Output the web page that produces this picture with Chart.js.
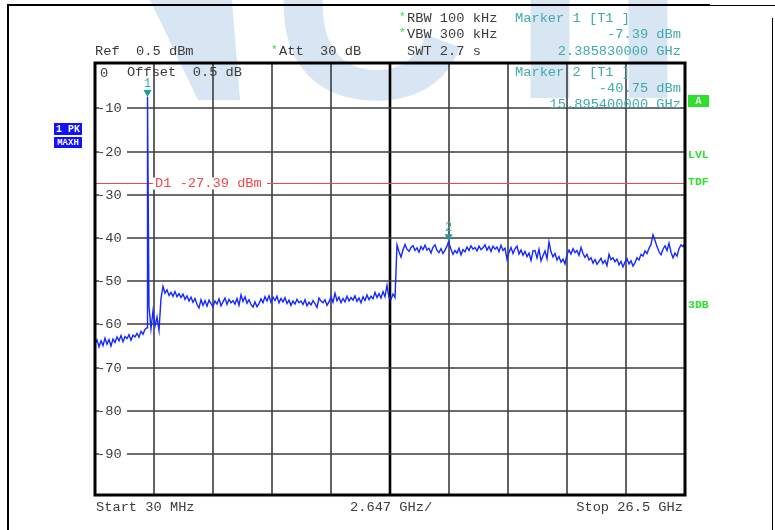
<!DOCTYPE html>
<html>
<head>
<meta charset="utf-8">
<script src="https://cdn.jsdelivr.net/npm/chart.js@4.4.1/dist/chart.umd.min.js"></script>
<style>
  html, body { margin: 0; padding: 0; background: #fff; }
  canvas { display: block; }
</style>
</head>
<body>
<canvas id="spec" width="775" height="530"></canvas>
<script>
// sweep settings
const startGHz = 0.03;
const stopGHz = 26.5;
const refLevel = 0.5;
const bottomLevel = -99.5;

// trace levels (dBm), one per sweep point from start to stop
const levels = [
  -64.5, -63.6, -65.2, -63.8, -64.9, -63.2, -64.6, -63.5, -65.0, -63.4,
  -64.2, -62.9, -63.8, -62.6, -64.0, -62.8, -63.3, -62.4, -63.7, -62.5,
  -62.9, -62.1, -63.0, -61.6, -62.3, -61.2,
  -60.8, -55.8, -61.0, -56.9, -60.4, -58.3, -61.4, -54.0,
  -51.2, -52.8, -52.0, -53.3, -52.6, -53.5,
  -52.4, -53.6, -52.9, -53.8, -53.0, -54.2, -53.4, -54.6, -53.7, -54.9,
  -54.0, -55.4, -56.2, -54.3, -55.6, -54.5, -55.8, -54.4, -55.2, -55.9,
  -54.6, -55.3, -54.1, -55.7, -54.8, -53.9, -55.4, -54.2, -55.0, -54.5,
  -55.3, -54.0, -55.6, -53.2, -54.7, -53.6, -55.1, -54.3, -55.4, -56.0,
  -54.8, -55.9, -55.2, -54.1, -55.0, -53.6, -54.6, -53.4, -54.9, -53.7,
  -54.5, -53.5, -55.0, -54.0, -54.8, -53.8, -55.2, -54.4, -55.6, -54.6,
  -55.3, -54.2, -55.0, -54.6, -55.4, -54.3, -55.7, -54.9, -55.5, -54.5,
  -55.2, -56.1, -53.9, -54.6, -55.0, -54.3, -55.6, -54.8, -53.6, -54.9,
  -52.8, -54.5, -53.7, -55.0, -54.0, -54.8, -53.5, -54.6, -53.8, -54.4,
  -53.4, -54.7, -53.9, -55.0, -53.6, -54.5, -53.2, -54.3, -53.5, -54.1,
  -52.6, -53.8, -52.9, -53.9, -52.4, -53.6, -51.0, -53.8, -54.2, -53.0,
  -53.8, -41.6,
  -43.2, -44.4, -42.8, -41.5, -42.6, -43.1, -42.2, -41.8,
  -42.9, -42.3, -43.3, -42.0, -42.7, -41.7, -42.8, -42.4, -43.5, -42.1,
  -41.6, -42.9, -43.4, -42.5, -43.6, -42.8, -41.9, -41.2,
  -42.6, -43.8, -42.9, -43.5, -42.4, -43.9, -42.7, -43.2, -42.1, -42.9, -41.8, -42.6,
  -42.2, -43.0, -41.9, -42.7, -42.3, -41.6, -42.8, -42.0, -43.1, -41.9,
  -42.6, -42.1, -43.2, -41.7, -42.9, -42.4, -44.9, -43.3, -42.2, -43.6,
  -42.5, -41.9, -43.7, -42.8, -44.0, -43.1, -44.3, -43.5, -45.2, -43.0,
  -42.9, -44.6, -42.6, -45.3, -44.1, -43.0, -44.8, -40.9, -43.2, -44.4,
  -43.6, -45.1, -44.3, -45.6, -44.9, -46.0, -43.9, -42.8, -43.7, -42.5,
  -43.4, -42.9, -44.0, -42.2, -43.6, -44.5, -43.8, -45.1, -44.6, -45.8,
  -45.0, -46.1, -45.4, -44.7, -45.9, -45.2, -46.4, -43.8, -45.0, -44.6,
  -45.5, -44.9, -46.2, -45.4, -46.7, -45.6, -44.8, -46.0, -45.3, -46.5,
  -45.7, -44.6, -45.1, -43.8, -44.2, -43.0, -43.6, -42.4, -41.5, -39.3,
  -40.6, -42.0, -43.2, -43.9, -42.6, -41.8, -42.9, -41.2, -43.3, -44.6,
  -43.5, -44.2, -42.5, -41.6, -42.0, -41.1
];

// markers
const markerNames = ['1', '2'];
const markerFreq = [2.38583, 15.8954];
const markerLevel = [-7.39, -40.75];

// display line D1
const displayLine = -27.39;

// grid
const gridFreqs = [0.03, 2.677, 5.324, 7.971, 10.618, 13.265, 15.912, 18.559, 21.206, 23.853, 26.5];
const levelTicks = [-10, -20, -30, -40, -50, -60, -70, -80, -90];
const levelLabels = ['-10', '-20', '-30', '-40', '-50', '-60', '-70', '-80', '-90'];

const stepGHz = (stopGHz - startGHz) / (levels.length - 1);
const points = levels.map((v, i) => ({ x: startGHz + i * stepGHz, y: v }));
markerFreq.forEach((f, i) => points.push({ x: f, y: markerLevel[i] }));
points.sort((a, b) => a.x - b.x);

const MONO = '"Liberation Mono", "DejaVu Sans Mono", monospace';
const GREY = '#3c3c3c';
const TEAL = '#3faaaa';
const RED = '#f04848';
const GREEN = '#2ee02e';

function txt(ctx, s, x, y, color, align, font) {
  ctx.font = font || '13.7px ' + MONO;
  ctx.fillStyle = color;
  ctx.textAlign = align || 'left';
  ctx.textBaseline = 'middle';
  ctx.fillText(s, x, y);
}

const screenPlugin = {
  id: 'screen',
  beforeDraw(chart) {
    const ctx = chart.ctx;
    ctx.save();
    ctx.fillStyle = '#fff';
    ctx.fillRect(0, 0, chart.width, chart.height);
    // watermark (logo, top cropped)
    ctx.fillStyle = '#d8e6f3';
    ctx.beginPath();
    ctx.moveTo(150, 0);
    ctx.lineTo(232, 0);
    ctx.lineTo(240, 100);
    ctx.lineTo(198, 100);
    ctx.closePath();
    ctx.fill();
    ctx.font = 'bold 270px "Liberation Sans", Arial, sans-serif';
    ctx.textAlign = 'center';
    ctx.textBaseline = 'alphabetic';
    [['C', 370], ['T', 550], ['T', 648]].forEach(l => ctx.fillText(l[0], l[1], 98));
    ctx.restore();
  },
  beforeDatasetsDraw(chart) {
    const { ctx, chartArea: a, scales: { x, y } } = chart;
    ctx.save();
    gridFreqs.slice(1, -1).forEach((f, i) => {
      const px = Math.round(x.getPixelForValue(f));
      ctx.lineWidth = i === 4 ? 2.6 : 1.6;
      ctx.strokeStyle = i === 4 ? '#000' : GREY;
      ctx.beginPath();
      ctx.moveTo(px, a.top);
      ctx.lineTo(px, a.bottom);
      ctx.stroke();
    });
    ctx.lineWidth = 1.6;
    ctx.strokeStyle = GREY;
    levelTicks.forEach(v => {
      const py = Math.round(y.getPixelForValue(v));
      ctx.beginPath();
      ctx.moveTo(a.left, py);
      ctx.lineTo(a.right, py);
      ctx.stroke();
    });
    // level labels with white backing
    levelTicks.forEach((v, i) => {
      const py = Math.round(y.getPixelForValue(v));
      ctx.fillStyle = '#fff';
      ctx.fillRect(a.left + 4, py - 5, 28, 10);
      txt(ctx, levelLabels[i], a.left + 2, py, GREY);
    });
    txt(ctx, '0', a.left + 5, 73, GREY);
    txt(ctx, 'Offset  0.5 dB', 127, 72, GREY);
    // display line
    const dy = Math.round(y.getPixelForValue(displayLine)) + 0.5;
    ctx.strokeStyle = RED;
    ctx.lineWidth = 1.2;
    ctx.beginPath();
    ctx.moveTo(a.left, dy);
    ctx.lineTo(a.right, dy);
    ctx.stroke();
    ctx.fillStyle = '#fff';
    ctx.fillRect(153, dy - 6, 114, 12);
    txt(ctx, 'D1 -27.39 dBm', 155, dy, RED);
    ctx.restore();
  },
  afterDatasetsDraw(chart) {
    const { ctx, chartArea: a, scales: { x, y } } = chart;
    ctx.save();
    // plot frame
    ctx.strokeStyle = '#000';
    ctx.lineWidth = 3;
    ctx.strokeRect(a.left, a.top, a.right - a.left, a.bottom - a.top);
    // outer frame
    ctx.lineWidth = 2;
    ctx.beginPath();
    ctx.moveTo(8, 530);
    ctx.lineTo(8, 5);
    ctx.lineTo(710, 5);
    ctx.stroke();
    ctx.lineWidth = 1;
    ctx.beginPath();
    ctx.moveTo(710, 5.5);
    ctx.lineTo(775, 5.5);
    ctx.moveTo(772.5, 18);
    ctx.lineTo(772.5, 530);
    ctx.stroke();
    // markers
    markerFreq.forEach((f, i) => {
      const px = x.getPixelForValue(f);
      const py = y.getPixelForValue(markerLevel[i]);
      ctx.fillStyle = '#1c9c9c';
      ctx.beginPath();
      ctx.moveTo(px - 4, py - 7);
      ctx.lineTo(px + 4, py - 7);
      ctx.lineTo(px, py);
      ctx.closePath();
      ctx.fill();
      txt(ctx, markerNames[i], px, py - 13, TEAL, 'center', '12px ' + MONO);
    });
    // header
    txt(ctx, 'Ref  0.5 dBm', 95, 51, GREY);
    txt(ctx, '*', 271, 50, GREEN, 'left', '11px ' + MONO);
    txt(ctx, 'Att  30 dB', 279, 51, GREY);
    txt(ctx, '*', 399, 17, GREEN, 'left', '11px ' + MONO);
    txt(ctx, 'RBW 100 kHz', 407, 18, GREY);
    txt(ctx, '*', 399, 33, GREEN, 'left', '11px ' + MONO);
    txt(ctx, 'VBW 300 kHz', 407, 34, GREY);
    txt(ctx, 'SWT 2.7 s', 407, 51, GREY);
    txt(ctx, 'Marker 1 [T1 ]', 515, 18, TEAL);
    txt(ctx, '-7.39 dBm', 681, 34, TEAL, 'right');
    txt(ctx, '2.385830000 GHz', 681, 51, TEAL, 'right');
    txt(ctx, 'Marker 2 [T1 ]', 515, 72, TEAL);
    txt(ctx, '-40.75 dBm', 681, 88, TEAL, 'right');
    txt(ctx, '15.895400000 GHz', 681, 104, TEAL, 'right');
    // footer
    txt(ctx, 'Start 30 MHz', 96, 507, GREY);
    txt(ctx, '2.647 GHz/', 350, 507, GREY);
    txt(ctx, 'Stop 26.5 GHz', 683, 507, GREY, 'right');
    // trace info boxes
    ctx.fillStyle = '#1212ff';
    ctx.fillRect(54, 123, 28, 12);
    ctx.fillRect(54, 137, 28, 11);
    txt(ctx, '1 PK', 68, 129.5, '#fff', 'center', 'bold 10px ' + MONO);
    txt(ctx, 'MAXH', 68, 143, '#fff', 'center', 'bold 9px ' + MONO);
    // right side flags
    ctx.fillStyle = GREEN;
    ctx.fillRect(688, 95, 21, 12);
    txt(ctx, 'A', 698.5, 101.5, '#fff', 'center', 'bold 10px ' + MONO);
    txt(ctx, 'LVL', 688, 155, GREEN, 'left', 'bold 11.5px ' + MONO);
    txt(ctx, 'TDF', 688, 182, GREEN, 'left', 'bold 11.5px ' + MONO);
    txt(ctx, '3DB', 688, 305, GREEN, 'left', 'bold 11.5px ' + MONO);
    ctx.restore();
  }
};

new Chart(document.getElementById('spec'), {
  type: 'line',
  data: {
    datasets: [{
      data: points,
      borderColor: '#1428ff',
      borderWidth: 1.4,
      pointRadius: 0,
      tension: 0
    }]
  },
  options: {
    responsive: false,
    animation: false,
    devicePixelRatio: 1,
    layout: { padding: { left: 95, right: 90, top: 63, bottom: 35 } },
    scales: {
      x: { type: 'linear', min: startGHz, max: stopGHz, display: false },
      y: { min: bottomLevel, max: refLevel, display: false }
    },
    plugins: { legend: { display: false }, tooltip: { enabled: false } }
  },
  plugins: [screenPlugin]
});
</script>
</body>
</html>
